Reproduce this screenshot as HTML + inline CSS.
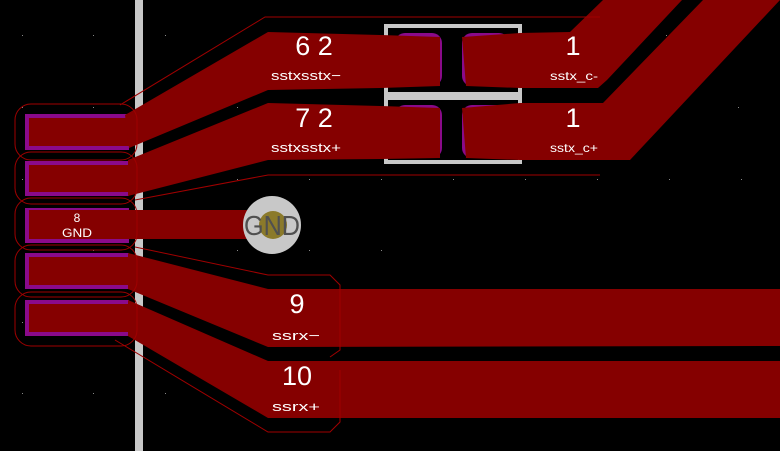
<!DOCTYPE html>
<html><head><meta charset="utf-8"><style>
html,body{margin:0;padding:0;background:#000;}
svg{display:block;}
text{font-family:"Liberation Sans",sans-serif;fill:#fff;}
</style></head><body>
<svg width="780" height="451" viewBox="0 0 780 451" xmlns="http://www.w3.org/2000/svg">
<rect width="780" height="451" fill="#000"/>
<g fill="#888">
<rect x="22" y="35" width="1" height="1"/><rect x="93" y="35" width="1" height="1"/><rect x="165" y="35" width="1" height="1"/>
<rect x="22" y="107" width="1" height="1"/><rect x="93" y="107" width="1" height="1"/><rect x="237" y="107" width="1" height="1"/>
<rect x="22" y="179" width="1" height="1"/><rect x="237" y="179" width="1" height="1"/><rect x="309" y="179" width="1" height="1"/><rect x="381" y="179" width="1" height="1"/><rect x="453" y="179" width="1" height="1"/><rect x="525" y="179" width="1" height="1"/><rect x="597" y="179" width="1" height="1"/><rect x="669" y="179" width="1" height="1"/><rect x="741" y="179" width="1" height="1"/>
<rect x="666" y="35" width="1" height="1"/><rect x="738" y="107" width="1" height="1"/>
<rect x="93" y="250" width="1" height="1"/><rect x="237" y="250" width="1" height="1"/><rect x="309" y="250" width="1" height="1"/><rect x="381" y="250" width="1" height="1"/>
<rect x="22" y="322" width="1" height="1"/><rect x="22" y="393" width="1" height="1"/><rect x="93" y="393" width="1" height="1"/><rect x="165" y="393" width="1" height="1"/>
</g>
<rect x="135" y="0" width="8" height="451" fill="#c8c8c8"/>
<rect x="384" y="24" width="138" height="140" fill="#c8c8c8"/>
<rect x="388" y="28" width="130" height="64" fill="#000"/>
<rect x="388" y="100" width="130" height="60" fill="#000"/>
<g fill="#8a0a8a">
<rect x="395" y="33" width="47" height="53" rx="10"/>
<rect x="462" y="33" width="47" height="53" rx="10"/>
<rect x="395" y="105" width="47" height="53" rx="10"/>
<rect x="462" y="105" width="47" height="53" rx="10"/>
</g>
<g fill="#8a0a8a">
<rect x="25" y="114" width="104" height="36"/>
<rect x="25" y="161" width="104" height="35"/>
<rect x="25" y="208" width="104" height="35"/>
<rect x="25" y="253" width="104" height="36"/>
<rect x="25" y="300" width="104" height="36"/>
</g>
<g fill="#850000">
<rect x="29" y="118" width="100" height="28"/>
<rect x="29" y="165" width="100" height="27"/>
<rect x="29" y="212" width="100" height="27"/>
<rect x="29" y="257" width="100" height="28"/>
<rect x="29" y="304" width="100" height="28"/>
<polygon points="125,115 268,32 380,35 440,37 440,86 380,88 268,90 129,148"/>
<rect x="400" y="37" width="38" height="49" rx="8"/>
<polygon points="128,160 268,103 380,106 440,108 440,158 380,159 268,160 128,196"/>
<rect x="400" y="108" width="38" height="50" rx="8"/>
<rect x="29" y="210" width="235" height="29"/>
<polygon points="128,253 268,289 780,289 780,346 268,347 128,289"/>
<polygon points="128,300 268,361 780,361 780,418 268,418 128,336"/>
<polygon points="462,37 520,33 570,32 603,0 682,0 607,80 598,88 520,88 466,86"/>
<polygon points="462,108 520,103 603,103 703,0 780,0 630,160 520,160 466,158"/>
<rect x="466" y="37" width="40" height="49" rx="8"/>
<rect x="466" y="108" width="40" height="50" rx="8"/>
</g>
<g fill="none" stroke="#a00000" stroke-width="1">
<rect x="15" y="104" width="122" height="56" rx="16"/>
<rect x="15" y="152" width="122" height="52" rx="16"/>
<rect x="15" y="198" width="122" height="52" rx="16"/>
<rect x="15" y="245" width="122" height="52" rx="16"/>
<rect x="15" y="292" width="122" height="54" rx="16"/>
<polyline points="120,105 265,17 600,17"/>
<polyline points="135,200 268,175 600,175"/>
<polyline points="135,247 268,275 330,275 340,285 340,350 330,357"/>
<polyline points="115,340 268,432 330,432 340,422 340,370"/>
</g>
<circle cx="272" cy="225" r="29" fill="#c8c8c8"/>
<circle cx="273" cy="225" r="14" fill="#8b7a2a"/>
<text x="272" y="235" font-size="28" text-anchor="middle" style="fill:#505050" textLength="56" lengthAdjust="spacingAndGlyphs">GND</text>
<text x="314" y="55" font-size="27" text-anchor="middle">6 2</text>
<text x="306" y="80" font-size="13" text-anchor="middle" textLength="70" lengthAdjust="spacingAndGlyphs">sstxsstx−</text>
<text x="314" y="127" font-size="27" text-anchor="middle">7 2</text>
<text x="306" y="152" font-size="13" text-anchor="middle" textLength="70" lengthAdjust="spacingAndGlyphs">sstxsstx+</text>
<text x="573" y="55" font-size="27" text-anchor="middle">1</text>
<text x="574" y="80" font-size="12" text-anchor="middle" textLength="48" lengthAdjust="spacingAndGlyphs">sstx_c-</text>
<text x="573" y="127" font-size="27" text-anchor="middle">1</text>
<text x="574" y="152" font-size="12" text-anchor="middle" textLength="48" lengthAdjust="spacingAndGlyphs">sstx_c+</text>
<text x="77" y="222" font-size="12" text-anchor="middle">8</text>
<text x="77" y="237" font-size="12" text-anchor="middle" textLength="30" lengthAdjust="spacingAndGlyphs">GND</text>
<text x="297" y="313" font-size="27" text-anchor="middle">9</text>
<text x="296" y="340" font-size="13" text-anchor="middle" textLength="48" lengthAdjust="spacingAndGlyphs">ssrx−</text>
<text x="297" y="385" font-size="27" text-anchor="middle">10</text>
<text x="296" y="411" font-size="13" text-anchor="middle" textLength="48" lengthAdjust="spacingAndGlyphs">ssrx+</text>
</svg>
</body></html>
